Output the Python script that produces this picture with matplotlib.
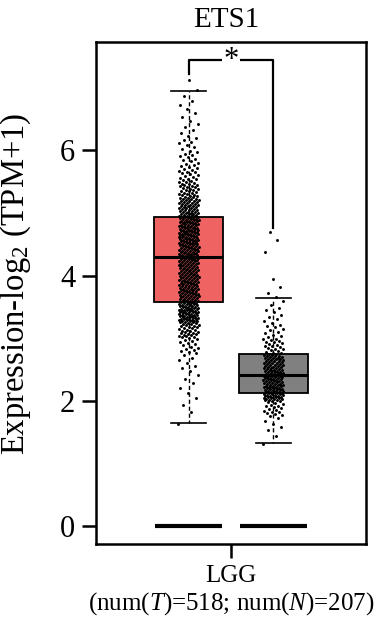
import numpy as np
import matplotlib
matplotlib.use("Agg")
import matplotlib.pyplot as plt

plt.rcParams['font.family'] = ['Liberation Serif', 'DejaVu Serif']
plt.rcParams['mathtext.fontset'] = 'custom'
plt.rcParams['mathtext.rm'] = 'Liberation Serif'
plt.rcParams['mathtext.it'] = 'Liberation Serif:italic'

# ---- data ----
gene = "ETS1"
cancer = "LGG"
n_tumor = 518
n_normal = 207
groups = ["Tumor", "Normal"]
box_colors = ["#EF6363", "#808080"]
# box statistics: lower whisker, Q1, median, Q3, upper whisker
tumor_stats = [1.64, 3.58, 4.30, 4.94, 6.95]
normal_stats = [1.32, 2.13, 2.41, 2.75, 3.64]
# point density (counts per 0.25 bin, lower edges)
tumor_bin_edges = [1.50, 1.75, 2.00, 2.25, 2.50, 2.75, 3.00, 3.25, 3.50, 3.75, 4.00, 4.25,
                   4.50, 4.75, 5.00, 5.25, 5.50, 5.75, 6.00, 6.25, 6.50, 6.75, 7.00]
tumor_counts = [1, 2, 3, 4, 6, 14, 30, 54, 46, 45, 44, 48,
                52, 50, 40, 28, 18, 12, 8, 5, 4, 3, 1]
normal_bin_edges = [1.25, 1.50, 1.75, 2.00, 2.25, 2.50, 2.75, 3.00, 3.25, 3.50, 3.75, 4.00, 4.25, 4.50]
normal_counts = [2, 5, 18, 50, 45, 40, 20, 11, 7, 4, 2, 0, 1, 2]
significance = "*"

bin_w = 0.25
pos = [0.843, 1.157]

def points_from_bins(edges, counts):
    ys = []
    for e, c in zip(edges, counts):
        if c > 0:
            ys.extend(list(e + (np.arange(c) + 0.5) / c * bin_w))
    return np.array(ys)

fig = plt.figure(figsize=(3.8, 6.2), dpi=100)
ax = fig.add_axes([96/380, 1-544/620, 270/380, 502/620])

stats_list = []
for st, lab in zip([tumor_stats, normal_stats], groups):
    stats_list.append(dict(whislo=st[0], q1=st[1], med=st[2], q3=st[3], whishi=st[4], fliers=[], label=lab))

bp = ax.bxp(stats_list, positions=pos, widths=0.256, patch_artist=True, showfliers=False,
            capwidths=0.13,
            boxprops=dict(linewidth=1.3, edgecolor='black'),
            medianprops=dict(color='black', linewidth=2.2),
            whiskerprops=dict(color='black', linewidth=1.0, linestyle=(0, (3, 2))),
            capprops=dict(color='black', linewidth=1.2), zorder=2)
for patch, c in zip(bp['boxes'], box_colors):
    patch.set_facecolor(c)

# jittered points
for p, edges, counts in zip(pos, [tumor_bin_edges, normal_bin_edges], [tumor_counts, normal_counts]):
    ys = points_from_bins(edges, counts)
    k = np.arange(len(ys))
    jit = ((k * 0.6180339887) % 1.0 - 0.5) * 0.075
    ax.scatter(p + jit, ys, s=4.5, color='black', linewidths=0, zorder=3)

# zero lines
for p in pos:
    ax.hlines(0, p - 0.125, p + 0.125, color='black', linewidth=3, zorder=3)

# significance bracket
ax.plot([pos[0], pos[0], pos[1], pos[1]], [7.22, 7.44, 7.44, 4.76], color='black', linewidth=1.6, zorder=4)
ax.text(1.0, 7.44, significance, ha='center', va='center', fontsize=22,
        bbox=dict(facecolor='white', edgecolor='none', pad=1), zorder=5)

ax.set_xlim(0.5, 1.5)
ax.set_ylim(-0.288, 7.73)
ax.set_yticks([0, 2, 4, 6])
ax.set_yticklabels(['0', '2', '4', '6'], fontsize=22)
ax.set_xticks([1.0])
ax.set_xticklabels([cancer], fontsize=18)
ax.tick_params(axis='both', length=10, width=1.8, pad=5)
for s in ax.spines.values():
    s.set_linewidth(1.8)

ax.set_ylabel(r"Expression-log$_2$ (TPM+1)", fontsize=23.5)
ax.yaxis.set_label_coords(-0.232, 0.518)
fig.text(226/380, 1-20/620, gene, ha='center', va='center', fontsize=21)
fig.text(231/380, 1-604/620, r"(num($\mathit{T}$)=%d; num($\mathit{N}$)=%d)" % (n_tumor, n_normal),
         ha='center', va='center', fontsize=18)

fig.savefig("out.png", dpi=100)
